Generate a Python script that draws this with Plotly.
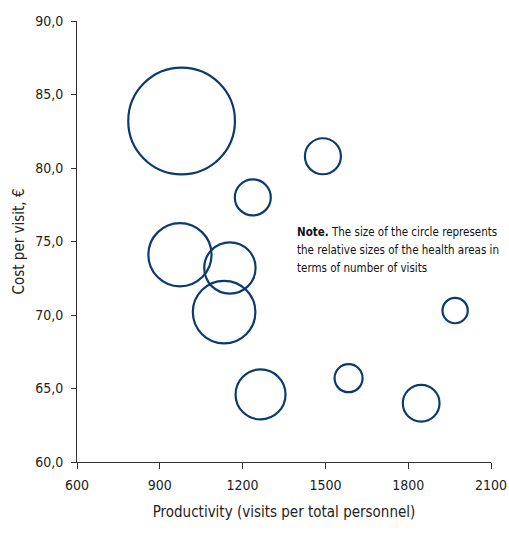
import plotly.graph_objects as go

# Data
productivity = [979, 1237, 1491, 973, 1154, 1133, 1970, 1265, 1584, 1847]
cost_per_visit = [83.2, 78.0, 80.8, 74.1, 73.2, 70.2, 70.3, 64.6, 65.7, 64.0]
visits = [285, 32.4, 32.4, 100, 66, 98, 16, 62.5, 19.6, 33.7]  # relative size (thousands of visits)

x_ticks = [600, 900, 1200, 1500, 1800, 2100]
y_ticks = [60, 65, 70, 75, 80, 85, 90]
y_tick_labels = ["60,0", "65,0", "70,0", "75,0", "80,0", "85,0", "90,0"]

note_lines = [
    "<b>Note.</b> The size of the circle represents",
    "the relative sizes of the health areas in",
    "terms of number of visits",
]

FONT = "DejaVu Sans Condensed"
MAX_DIAM = 106.7
sizeref = 2 * max(visits) / MAX_DIAM ** 2

fig = go.Figure(
    go.Scatter(
        x=productivity,
        y=cost_per_visit,
        mode="markers",
        marker=dict(
            size=visits,
            sizemode="area",
            sizeref=sizeref,
            opacity=1,
            color="rgba(0,0,0,0)",
            line=dict(color="#0B3B6E", width=2.2),
        ),
        hoverinfo="x+y",
    )
)

fig.update_xaxes(
    range=[600, 2100],
    tickvals=x_ticks,
    ticks="outside",
    ticklen=6,
    tickcolor="#333333",
    showline=True,
    linecolor="#333333",
    linewidth=1,
    showgrid=False,
    zeroline=False,
    automargin=False,
    ticklabelstandoff=4,
    title=dict(text="Productivity (visits per total personnel)", font=dict(size=15, family=FONT, color="#222222"), standoff=14),
    tickfont=dict(size=14, family=FONT, color="#222222"),
)
fig.update_yaxes(
    range=[60, 90],
    tickvals=y_ticks,
    ticktext=y_tick_labels,
    ticks="outside",
    ticklen=5,
    tickcolor="#333333",
    showline=True,
    linecolor="#333333",
    linewidth=1,
    showgrid=False,
    zeroline=False,
    automargin=False,
    ticklabelstandoff=5,
    title=dict(text="Cost per visit, €", font=dict(size=15, family=FONT, color="#222222"), standoff=6),
    tickfont=dict(size=14, family=FONT, color="#222222"),
)

note_y = [75.67, 74.42, 73.18]
for line, yv in zip(note_lines, note_y):
    fig.add_annotation(
        x=1389, y=yv, xref="x", yref="y",
        text=line, showarrow=False,
        xanchor="left", yanchor="middle",
        font=dict(size=11.5, family=FONT, color="#111111"),
    )

fig.update_layout(
    width=509,
    height=534,
    margin=dict(l=77, r=18, t=21, b=72),
    paper_bgcolor="white",
    plot_bgcolor="white",
    showlegend=False,
)

# remove the browser's default body margin so the figure fills the window exactly
fig.write_html(
    "out.html",
    config={"displayModeBar": False},
    post_script="document.body.style.margin='0px';document.body.style.overflow='hidden';",
)
